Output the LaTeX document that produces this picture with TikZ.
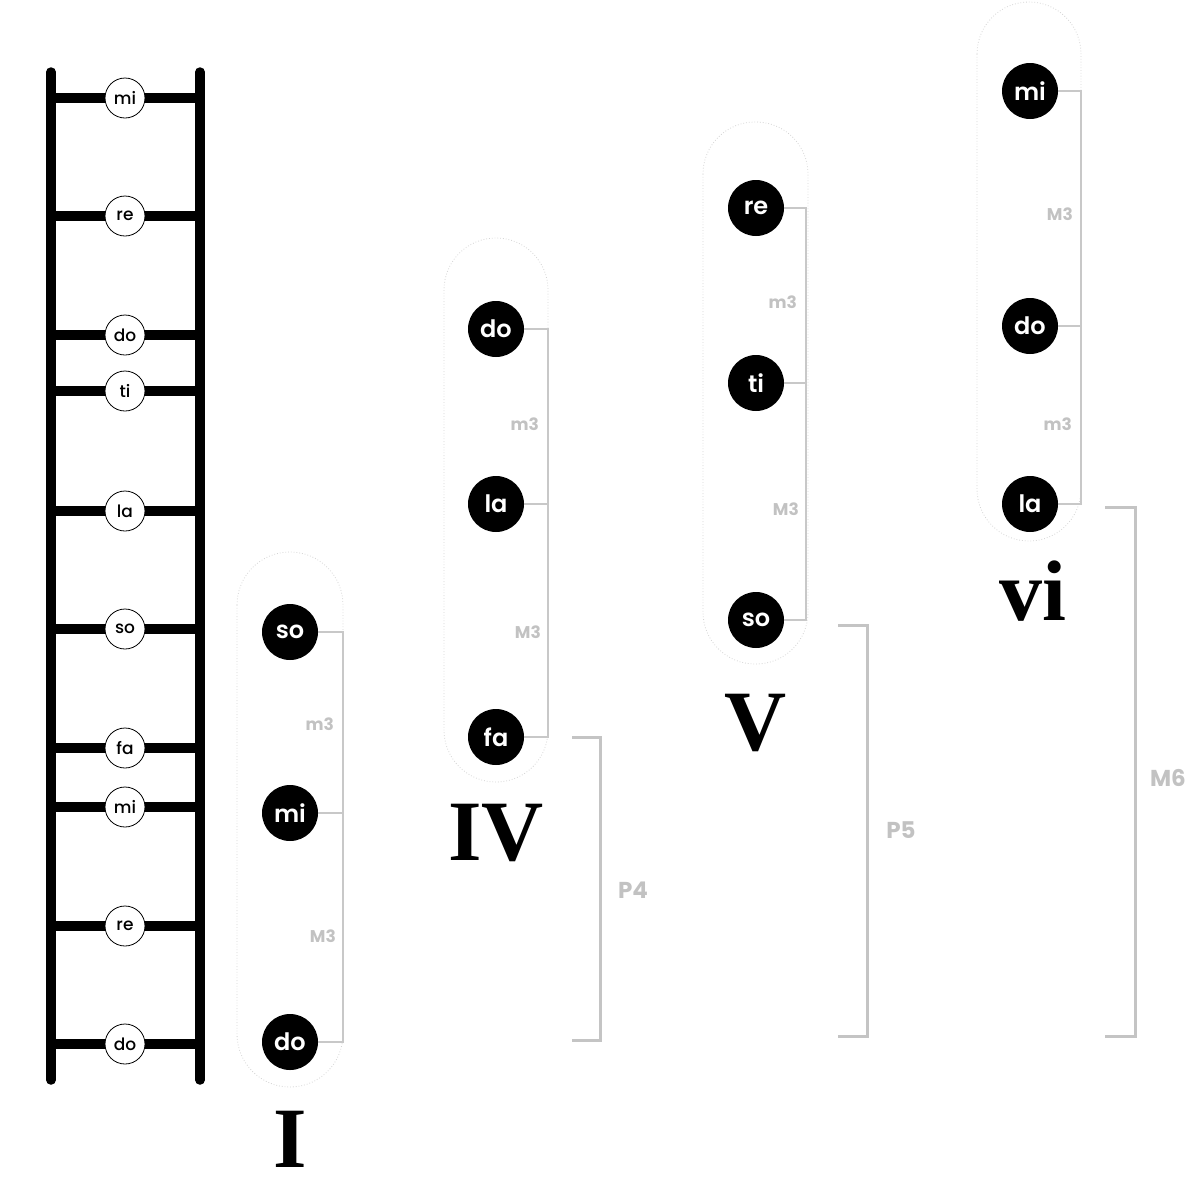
\documentclass[tikz,border=0pt]{standalone}
\usepackage{fontspec}
\newfontfamily\mont{Poppins}
\newfontfamily\montmed{Poppins Medium}
\newfontfamily\montsb{Poppins SemiBold}
\newfontfamily\romanf{Liberation Serif}
\definecolor{tickgray}{HTML}{C8C8C8}
\definecolor{biggray}{HTML}{C4C4C4}
\definecolor{capgray}{HTML}{D4D4D4}
\definecolor{labgray}{HTML}{C2C2C2}
\begin{document}
\begin{tikzpicture}[x=1pt,y=-1pt,
  rail/.style={line width=9.5pt,line cap=round,black},
  rung/.style={line width=9.5pt,black},
  lnote/.style={circle,draw=black,line width=0.8pt,fill=white,minimum size=40pt,inner sep=0pt,font=\montmed\fontsize{17}{17}\selectfont},
  cnote/.style={circle,fill=black,text=white,minimum size=56pt,inner sep=0pt,font=\montsb\fontsize{24}{24}\selectfont},
  capsule/.style={draw=capgray,line width=0.8pt,dotted},
  tickl/.style={draw=tickgray,line width=1.8pt},
  bigb/.style={draw=biggray,line width=3pt},
  ivl/.style={anchor=east,text=labgray,inner sep=0pt,font=\mont\bfseries\fontsize{17}{17}\selectfont},
  bigl/.style={text=labgray,inner sep=0pt,font=\mont\bfseries\fontsize{23}{23}\selectfont},
  chordl/.style={anchor=base,inner sep=0pt,font=\romanf\bfseries\fontsize{86}{86}\selectfont}]
\useasboundingbox (0,0) rectangle (1200,1200);
% ladder
\coordinate (LT) at (51,72);
\coordinate (LB) at (51,1080);
\coordinate (RT) at (200,72);
\coordinate (RB) at (200,1080);
\foreach \y/\n/\t in {98/a/mi,216/b/re,335/c/do,391/d/ti,511/e/la,629/f/so,748/g/fa,807/h/mi,926/i/re,1044/j/do}{
  \coordinate (l\n) at (51,\y);
  \coordinate (r\n) at (200,\y);
  \draw[rung] (l\n) -- (r\n);
}
\draw[rail] (LT) -- (LB);
\draw[rail] (RT) -- (RB);
\foreach \y/\n/\t in {98/a/mi,216/b/re,335/c/do,391/d/ti,511/e/la,629/f/so,748/g/fa,807/h/mi,926/i/re,1044/j/do}{
  \node[lnote] (L\n) at (125,\y) {\t};
}
% capsules
\draw[capsule,rounded corners=53pt] (237,552) rectangle (343,1087);
\draw[capsule,rounded corners=52pt] (444,238) rectangle (548,782);
\draw[capsule,rounded corners=52pt] (703,122) rectangle (808,664);
\draw[capsule,rounded corners=52pt] (977,2) rectangle (1081,541);
% chord I
\node[cnote] (Iso) at (290,632) {so};
\node[cnote] (Imi) at (290,813) {mi};
\node[cnote] (Ido) at (290,1042) {do};
\coordinate (Ib) at (343,0);
\draw[tickl] (Iso.east) -- (Iso.east -| Ib) -- (Ido.east -| Ib) -- (Ido.east);
\draw[tickl] (Imi.east) -- (Imi.east -| Ib);
\node[ivl] (Im3) at (334,724) {m3};
\node[ivl] (IM3) at (336,936) {M3};
\node[chordl] (Il) at (290,1167) {I};
% chord IV
\node[cnote] (IVdo) at (496,329) {do};
\node[cnote] (IVla) at (496,504) {la};
\node[cnote] (IVfa) at (496,737) {fa};
\coordinate (IVb) at (548,0);
\draw[tickl] (IVdo.east) -- (IVdo.east -| IVb) -- (IVfa.east -| IVb) -- (IVfa.east);
\draw[tickl] (IVla.east) -- (IVla.east -| IVb);
\node[ivl] (IVm3) at (539,424) {m3};
\node[ivl] (IVM3) at (541,632) {M3};
\node[chordl] (IVl) at (496,860) {IV};
% chord V
\node[cnote] (Vre) at (756,208) {re};
\node[cnote] (Vti) at (756,383) {ti};
\node[cnote] (Vso) at (756,620) {so};
\coordinate (Vb) at (806,0);
\draw[tickl] (Vre.east) -- (Vre.east -| Vb) -- (Vso.east -| Vb) -- (Vso.east);
\draw[tickl] (Vti.east) -- (Vti.east -| Vb);
\node[ivl] (Vm3) at (797,302) {m3};
\node[ivl] (VM3) at (799,509) {M3};
\node[chordl] (Vl) at (756,750) {V};
% chord vi
\node[cnote] (vimi) at (1030,91) {mi};
\node[cnote] (vido) at (1030,326) {do};
\node[cnote] (vila) at (1030,504) {la};
\coordinate (vib) at (1081,0);
\draw[tickl] (vimi.east) -- (vimi.east -| vib) -- (vila.east -| vib) -- (vila.east);
\draw[tickl] (vido.east) -- (vido.east -| vib);
\node[ivl] (viM3) at (1073,214) {M3};
\node[ivl] (vim3) at (1072,424) {m3};
\node[chordl] (vil) at (1033,620) {vi};
% big brackets
\coordinate (P4a) at (572,737); \coordinate (P4b) at (600,1040);
\draw[bigb] (P4a) -| (P4b) -- (572,1040);
\node[bigl] (P4l) at (633,890) {P4};
\coordinate (P5a) at (838,625); \coordinate (P5b) at (867,1036);
\draw[bigb] (P5a) -| (P5b) -- (838,1036);
\node[bigl] (P5l) at (901,830) {P5};
\coordinate (M6a) at (1105,507); \coordinate (M6b) at (1135,1036);
\draw[bigb] (M6a) -| (M6b) -- (1105,1036);
\node[bigl] (M6l) at (1168,778) {M6};
\end{tikzpicture}
\end{document}
